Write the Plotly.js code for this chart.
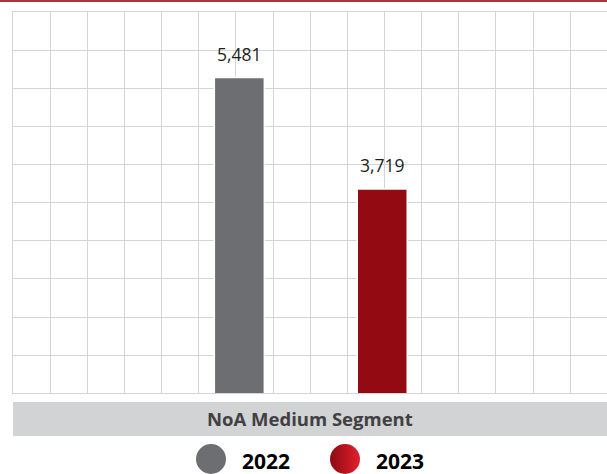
<!DOCTYPE html>
<html><head><meta charset="utf-8">
<script src="https://cdn.plot.ly/plotly-3.0.1.min.js"></script>
<style>html,body{margin:0;padding:0;background:#fff;overflow:hidden}#chart{width:607px;height:474px}</style>
</head><body><div id="chart"></div>
<script>
// ---- data ----
const categories = ['2022', '2023'];
const values = [5481, 3719];
const valueLabels = ['5,481', '3,719'];
const segmentTitle = 'NoA Medium Segment';
const seriesNames = ['2022', '2023'];

// ---- styles ----
const barColors = ['#6d6e71', '#930a13'];
const legendColors = ['#6d6e71', '#8c0a12'];
const legendGradient = [null, '#e3202e'];
const gridColor = '#d5d5d5';

const W = 607, H = 474, mt = 12, mb = 0;
const plotH = H - mt - mb;
const py = p => (H - mb - p) / plotH;   // pixel row -> paper y
const plotW = W - 13;

const traces = [];
traces.push({
  type: 'bar', x: categories, y: values,
  marker: {color: barColors, line: {color: '#ffffff', width: 1.5}},
  width: 0.35, hoverinfo: 'skip', showlegend: false
});
// carrier for vertical grid axis
traces.push({type: 'scatter', x: [], y: [], xaxis: 'x2', yaxis: 'y', hoverinfo: 'skip', showlegend: false});
// custom legend markers
seriesNames.forEach((n, i) => {
  const m = {color: legendColors[i], size: 30, line: {width: 0}};
  if (legendGradient[i]) m.gradient = {type: 'horizontal', color: legendGradient[i]};
  traces.push({type: 'scatter', mode: 'markers', x: [i], y: [0], xaxis: 'x3', yaxis: 'y3',
    marker: m, cliponaxis: false, hoverinfo: 'skip', showlegend: false});
});

const annotations = [];
categories.forEach((c, i) => annotations.push({
  xref: 'x', yref: 'y', x: i, y: values[i], text: valueLabels[i], showarrow: false,
  yanchor: 'bottom', xanchor: 'center', yshift: 10,
  font: {family: 'Open Sans', size: 17.5, color: '#231f20'}
}));
annotations.push({
  xref: 'paper', yref: 'paper', x: 0.5, y: py(418.5), text: '<b>' + segmentTitle + '</b>',
  showarrow: false, xanchor: 'center', yanchor: 'middle',
  font: {family: 'Open Sans', size: 18.5, color: '#414042'}
});
seriesNames.forEach((n, i) => annotations.push({
  xref: 'x3', yref: 'y3', x: i, y: 0, text: '<b>' + n + '</b>', showarrow: false,
  xanchor: 'left', yanchor: 'middle', xshift: 29, yshift: -2,
  font: {family: 'Open Sans', size: 21, color: '#000000'}
}));

const layout = {
  width: W, height: H,
  margin: {l: 13, r: 0, t: mt, b: mb, pad: 0},
  paper_bgcolor: '#ffffff', plot_bgcolor: 'rgba(0,0,0,0)',
  showlegend: false,
  xaxis: {type: 'category', range: [-1.584, 2.573], showgrid: false, showticklabels: false,
    zeroline: false, showline: true, mirror: true, linecolor: gridColor, linewidth: 1,
    ticks: '', fixedrange: true},
  yaxis: {domain: [py(393.3), 1], range: [494, 6516], tick0: 494, dtick: 602.2, showgrid: true,
    gridcolor: gridColor, gridwidth: 1, showticklabels: false, zeroline: false,
    showline: true, linecolor: gridColor, linewidth: 1, ticks: '', fixedrange: true},
  xaxis2: {overlaying: 'x', anchor: 'y', range: [0, 15.99], tick0: 0, dtick: 1, showgrid: true,
    gridcolor: gridColor, gridwidth: 1, showticklabels: false, zeroline: false, showline: false,
    ticks: '', fixedrange: true},
  xaxis3: {anchor: 'y3', range: [-(211 - 13) / 134, (W - 211) / 134], visible: false, fixedrange: true},
  yaxis3: {anchor: 'x3', domain: [0, 2 * (H - 459) / plotH], range: [-1, 1], visible: false, fixedrange: true},
  shapes: [
    {type: 'rect', xref: 'paper', yref: 'paper', x0: 0, x1: 1, y0: py(436), y1: py(402),
      fillcolor: '#d1d3d4', line: {width: 0}, layer: 'below'},
    {type: 'line', xref: 'paper', yref: 'paper', x0: -13 / plotW, x1: 1, y0: py(1), y1: py(1),
      line: {color: '#ad343b', width: 2}}
  ],
  annotations: annotations
};

Plotly.newPlot('chart', traces, layout, {displayModeBar: false, staticPlot: true});
</script></body></html>
